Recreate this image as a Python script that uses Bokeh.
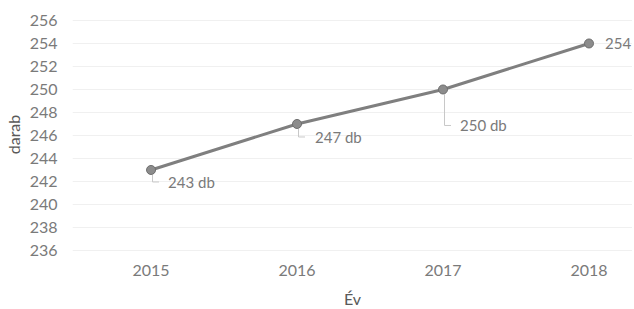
from bokeh.plotting import figure
from bokeh.models import ColumnDataSource, FixedTicker
from bokeh.core.properties import value
from bokeh.embed import file_html
from bokeh.resources import INLINE

# ---- data ----
years = [2015, 2016, 2017, 2018]
counts = [243, 247, 250, 254]
point_labels = ["243 db", "247 db", "250 db", "254"]
y_ticks = [236, 238, 240, 242, 244, 246, 248, 250, 252, 254, 256]

# ---- style / placement (screen px) ----
label_dx = [17, 18, 17, 16]
label_dy = [12, 13, 36, 0]
has_leader = [True, True, True, False]
PX_X = 146.0   # px per year
PX_Y = 11.5    # px per unit

FONT = "Lato"
TXT = "#7a7a7a"

p = figure(frame_width=560, frame_height=240,
           x_range=(2014.462, 2018.298), y_range=(235.65, 256.52),
           output_backend="svg", toolbar_location=None,
           min_border_left=72, min_border_right=0, min_border_top=14, min_border_bottom=54)
p.outline_line_color = None
p.background_fill_color = "white"
p.border_fill_color = "white"

p.xgrid.grid_line_color = None
p.ygrid.grid_line_color = "#f0f0f0"
p.ygrid.grid_line_width = 1

p.xaxis.ticker = FixedTicker(ticks=years)
p.yaxis.ticker = FixedTicker(ticks=y_ticks)
for ax in (p.xaxis[0], p.yaxis[0]):
    ax.axis_line_color = None
    ax.major_tick_line_color = None
    ax.minor_tick_line_color = None
    ax.major_label_text_font = FONT
    ax.major_label_text_font_size = "16px"
    ax.major_label_text_color = TXT
    ax.axis_label_text_font = FONT
    ax.axis_label_text_font_size = "16px"
    ax.axis_label_text_font_style = "normal"
    ax.axis_label_text_color = "#595959"
p.xaxis.axis_label = "Év"
p.yaxis.axis_label = "darab"
p.xaxis.major_label_standoff = 4
p.yaxis.major_label_standoff = 9
p.xaxis.axis_label_standoff = 10
p.yaxis.axis_label_standoff = 4

# leader lines
lx, ly = [], []
for x, v, dx, dy, h in zip(years, counts, label_dx, label_dy, has_leader):
    if not h:
        continue
    yl = v - dy / PX_Y
    lx.append([x + 1.5 / PX_X, x + 1.5 / PX_X, x + 8 / PX_X])
    ly.append([v - 5 / PX_Y, yl, yl])
p.multi_line(xs=lx, ys=ly, line_color="#c8c8c8", line_width=1)

src = ColumnDataSource(dict(x=years, y=counts, lab=point_labels, dx=label_dx, dy=label_dy))
p.line("x", "y", source=src, line_color="#7f7f7f", line_width=3)
p.scatter("x", "y", source=src, size=9, fill_color="#8c8c8c", line_color="#6e6e6e", line_width=1)
p.text("x", "y", text="lab", source=src, x_offset="dx", y_offset="dy",
       text_font=value(FONT), text_font_size="15px", text_color=TXT,
       text_align="left", text_baseline="middle")

open("out.html", "w").write(file_html(p, INLINE))
